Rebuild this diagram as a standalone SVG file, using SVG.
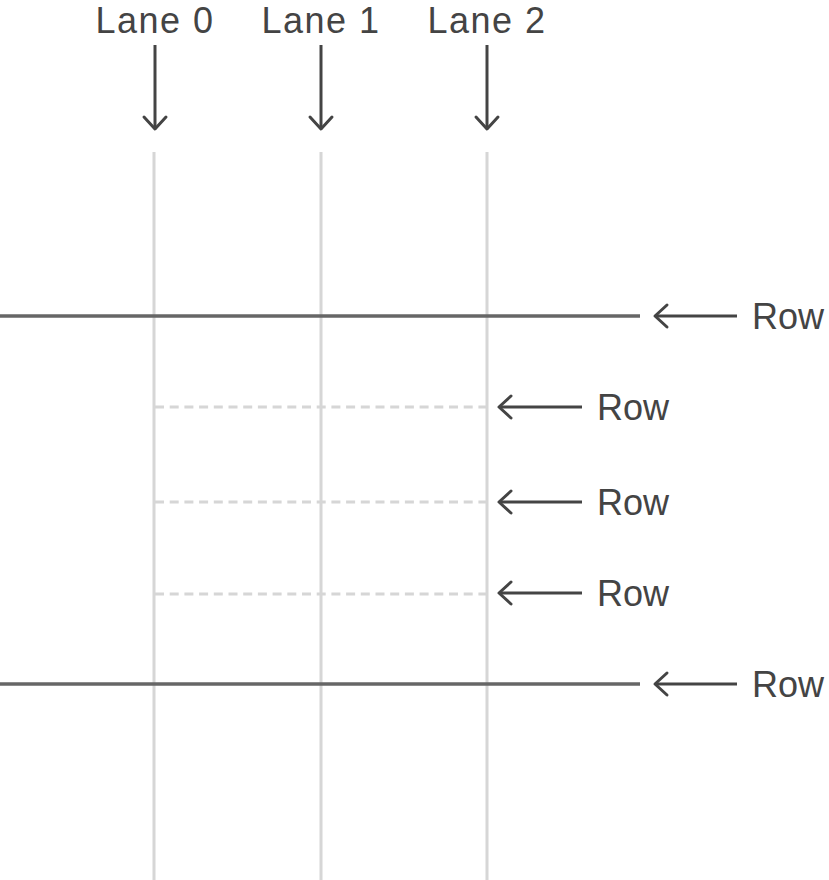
<svg xmlns="http://www.w3.org/2000/svg" width="829" height="880" viewBox="0 0 829 880">
<style>
.lane{stroke:#d6d6d6;stroke-width:3;fill:none}
.row{stroke:#666;stroke-width:3.5;fill:none}
.dash{stroke:#d6d6d6;stroke-width:3;stroke-dasharray:9,5.7;fill:none}
.arr{stroke:#444;stroke-width:3;fill:none}
.head{stroke:#444;stroke-width:3;fill:none;stroke-linecap:round;stroke-linejoin:round}
text{font-family:"Liberation Sans",Arial,sans-serif;font-size:36px;fill:#444}
.lt{letter-spacing:1.5px}
</style>
<rect width="829" height="880" fill="#fff"/>
<g id="grid">
<line class="lane" x1="154" y1="152" x2="154" y2="880"/>
<line class="lane" x1="321" y1="152" x2="321" y2="880"/>
<line class="lane" x1="487" y1="152" x2="487" y2="880"/>
<line class="row" x1="0" y1="316" x2="640" y2="316"/>
<line class="row" x1="0" y1="684" x2="640" y2="684"/>
<line class="dash" x1="155" y1="407" x2="487" y2="407"/>
<line class="dash" x1="155" y1="502" x2="487" y2="502"/>
<line class="dash" x1="155" y1="594" x2="487" y2="594"/>
</g>
<g id="lane0"><text class="lt" x="155" y="33" text-anchor="middle">Lane 0</text><line class="arr" x1="155" y1="45" x2="155" y2="128"/><polyline class="head" points="144,117 155,129 166,117"/></g>
<g id="lane1"><text class="lt" x="321" y="33" text-anchor="middle">Lane 1</text><line class="arr" x1="321" y1="45" x2="321" y2="128"/><polyline class="head" points="310,117 321,129 332,117"/></g>
<g id="lane2"><text class="lt" x="487" y="33" text-anchor="middle">Lane 2</text><line class="arr" x1="487" y1="45" x2="487" y2="128"/><polyline class="head" points="476,117 487,129 498,117"/></g>
<g id="row0"><line class="arr" x1="656" y1="316" x2="737" y2="316"/><polyline class="head" points="667,305 655,316 667,327"/><text x="752" y="329">Row</text></g>
<g id="row1"><line class="arr" x1="500" y1="407" x2="582" y2="407"/><polyline class="head" points="511,396 499,407 511,418"/><text x="597" y="420">Row</text></g>
<g id="row2"><line class="arr" x1="500" y1="502" x2="582" y2="502"/><polyline class="head" points="511,491 499,502 511,513"/><text x="597" y="515">Row</text></g>
<g id="row3"><line class="arr" x1="500" y1="593" x2="582" y2="593"/><polyline class="head" points="511,582 499,593 511,604"/><text x="597" y="606">Row</text></g>
<g id="row4"><line class="arr" x1="656" y1="684" x2="737" y2="684"/><polyline class="head" points="667,673 655,684 667,695"/><text x="752" y="697">Row</text></g>
</svg>
